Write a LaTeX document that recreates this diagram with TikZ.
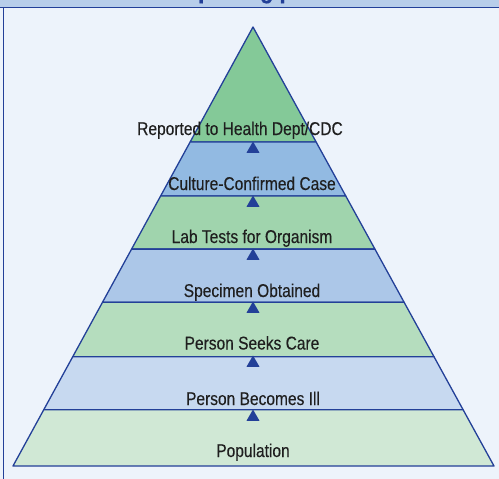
\documentclass[tikz,border=0pt]{standalone}
\usepackage{fontspec}
\setmainfont{Liberation Sans}[FakeStretch=0.84,FakeBold=0.3]
\usetikzlibrary{calc,shapes.geometric}
\usepackage{xcolor}

\definecolor{edgeblue}{RGB}{35,64,152}
\definecolor{pagebg}{RGB}{237,243,251}
\definecolor{headbg}{RGB}{184,206,234}
\definecolor{lvA}{RGB}{132,201,152}
\definecolor{lvB}{RGB}{146,186,226}
\definecolor{lvC}{RGB}{160,212,173}
\definecolor{lvD}{RGB}{172,199,232}
\definecolor{lvE}{RGB}{181,221,190}
\definecolor{lvF}{RGB}{199,217,240}
\definecolor{lvG}{RGB}{208,232,213}

\begin{document}
\begin{tikzpicture}[x=1pt,y=-1pt]
  \tikzstyle{layer}=[draw=edgeblue,line width=1.3pt,line join=round]
  \tikzstyle{level}=[anchor=base,inner sep=0pt,text=black!88,
                     font=\fontsize{18.5}{21}\selectfont]
  \tikzstyle{marker}=[regular polygon,regular polygon sides=3,fill=edgeblue,
                      inner sep=0pt,minimum size=15pt]
  \tikzstyle{title}=[anchor=base,inner sep=0pt,text=edgeblue,
                     font=\bfseries\fontsize{26}{30}\selectfont]

  \useasboundingbox (0,0) rectangle (499,479);
  \fill[pagebg] (0,0) rectangle (499,479);

  % header band, cut off at the top
  \fill[headbg] (0,0) rectangle (499,7);
  \begin{scope}
    \clip (0,0) rectangle (499,7);
    \node[title] (title) at (248,-2) {The reporting process};
  \end{scope}
  \draw[edgeblue,line width=1.6pt] (0,7.5) -- (499,7.5);
  \draw[edgeblue,line width=1.6pt] (3.5,7.5) -- (3.5,479);

  % pyramid corners
  \coordinate (apex) at (253,27);
  \coordinate (bl) at (13,466);
  \coordinate (br) at (494,466);

  \coordinate (l1) at ($(apex)!0.262!(bl)$);  \coordinate (r1) at ($(apex)!0.262!(br)$);
  \coordinate (l2) at ($(apex)!0.385!(bl)$);  \coordinate (r2) at ($(apex)!0.385!(br)$);
  \coordinate (l3) at ($(apex)!0.506!(bl)$);  \coordinate (r3) at ($(apex)!0.506!(br)$);
  \coordinate (l4) at ($(apex)!0.627!(bl)$);  \coordinate (r4) at ($(apex)!0.627!(br)$);
  \coordinate (l5) at ($(apex)!0.751!(bl)$);  \coordinate (r5) at ($(apex)!0.751!(br)$);
  \coordinate (l6) at ($(apex)!0.872!(bl)$);  \coordinate (r6) at ($(apex)!0.872!(br)$);

  \filldraw[layer,fill=lvA] (apex) -- (l1) -- (r1) -- cycle;
  \filldraw[layer,fill=lvB] (l1) -- (l2) -- (r2) -- (r1) -- cycle;
  \filldraw[layer,fill=lvC] (l2) -- (l3) -- (r3) -- (r2) -- cycle;
  \filldraw[layer,fill=lvD] (l3) -- (l4) -- (r4) -- (r3) -- cycle;
  \filldraw[layer,fill=lvE] (l4) -- (l5) -- (r5) -- (r4) -- cycle;
  \filldraw[layer,fill=lvF] (l5) -- (l6) -- (r6) -- (r5) -- cycle;
  \filldraw[layer,fill=lvG] (l6) -- (bl) -- (br) -- (r6) -- cycle;

  % level labels
  \node[level] (reported) at (240,135) {Reported to Health Dept/CDC};
  \node[level] (culture)  at (252,190) {Culture-Confirmed Case};
  \node[level] (labtests) at (252,243) {Lab Tests for Organism};
  \node[level] (specimen) at (252,297) {Specimen Obtained};
  \node[level] (seekcare) at (252,349.5) {Person Seeks Care};
  \node[level] (becomes)  at (253,405) {Person Becomes Ill};
  \node[level] (popul)    at (253,457) {Population};

  % small arrow heads between levels
  \node[marker] (m1) at (253,149) {};
  \node[marker] (m2) at (253,203) {};
  \node[marker] (m3) at (253,256) {};
  \node[marker] (m4) at (253,309) {};
  \node[marker] (m5) at (253,363) {};
  \node[marker] (m6) at (253,417) {};
\end{tikzpicture}
\end{document}
